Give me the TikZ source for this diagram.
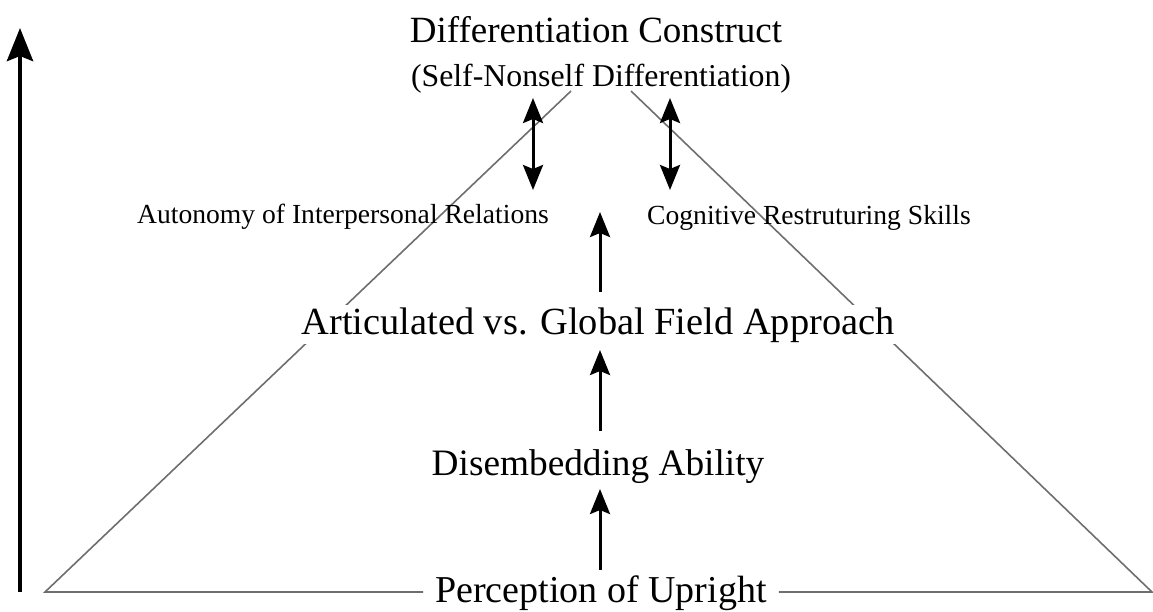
\documentclass[tikz,border=0pt]{standalone}
\usepackage{fontspec}
\setmainfont{Liberation Serif}
\usetikzlibrary{arrows.meta}
\definecolor{trigray}{HTML}{6E6E6E}
\begin{document}
\begin{tikzpicture}[x=1pt,y=-1pt,
  lbl/.style={anchor=base, inner sep=0pt},
  tri/.style={draw=trigray, line width=1.6pt},
  upar/.style={line width=3pt, -{Stealth[length=25pt,width=20pt,inset=4pt]}},
  dblar/.style={line width=3pt, {Stealth[length=25pt,width=20pt,inset=4pt]}-{Stealth[length=25pt,width=20pt,inset=4pt]}},
  bigar/.style={line width=4.7pt, -{Stealth[length=33pt,width=26pt,inset=5pt]}}]
\useasboundingbox (0,0) rectangle (1153,611);
% triangle
\coordinate (bl) at (45,592);
\coordinate (br) at (1152,592);
\coordinate (al) at (571,91);
\coordinate (ar) at (631,91);
% texts
\node[lbl, font=\fontsize{37}{40}\selectfont] (title) at (596,42) {Differentiation Construct};
\node[lbl, font=\fontsize{31.8}{34}\selectfont] (sub) at (601,86) {(Self-Nonself Differentiation)};
\node[lbl, font=\fontsize{38}{41}\selectfont, inner xsep=12pt] (perc) at (601,602) {Perception of Upright};
\draw[tri] (perc.west |- bl) -- (bl) -- (al);
\draw[tri] (perc.east |- br) -- (br) -- (ar);
\node[lbl, font=\fontsize{27.6}{30}\selectfont] (auton) at (343,223) {Autonomy of Interpersonal Relations};
\node[lbl, font=\fontsize{27.6}{30}\selectfont] (cog) at (809,224) {Cognitive Restruturing Skills};
\node[lbl, fill=white, inner xsep=4pt, inner ysep=2pt, font=\fontsize{38.4}{41}\selectfont] (artic) at (598,334) {Articulated vs. Global Field Approach};
\node[lbl, font=\fontsize{37.3}{40}\selectfont] (disemb) at (598,475) {Disembedding Ability};
% arrows
\coordinate (a3s) at (600,570); \coordinate (a3e) at (600,489);
\coordinate (a2s) at (600,431); \coordinate (a2e) at (600,350);
\coordinate (a1s) at (600,292); \coordinate (a1e) at (600,212);
\draw[upar] (a3s) -- (a3e);
\draw[upar] (a2s) -- (a2e);
\draw[upar] (a1s) -- (a1e);
\coordinate (dlt) at (533,98); \coordinate (dlb) at (533,190);
\coordinate (drt) at (670,98); \coordinate (drb) at (670,190);
\draw[dblar] (dlt) -- (dlb);
\draw[dblar] (drt) -- (drb);
\coordinate (bigs) at (20,592); \coordinate (bige) at (20,28);
\draw[bigar] (bigs) -- (bige);
\end{tikzpicture}
\end{document}
